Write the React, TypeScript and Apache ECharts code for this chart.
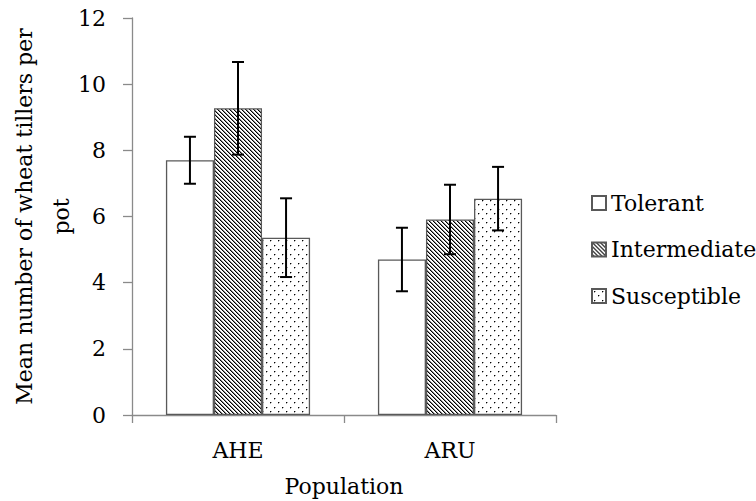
import React, { useEffect, useRef } from "react";
import * as echarts from "echarts";

// Populations on the x axis and tolerance groups as bar series
const populations = ["AHE", "ARU"];
const groups = ["Tolerant", "Intermediate", "Susceptible"];

// Mean number of wheat tillers per pot
const tolerantMeans = [7.7, 4.7];
const intermediateMeans = [9.27, 5.91];
const susceptibleMeans = [5.36, 6.54];

// Standard errors (drawn as symmetric error bars)
const tolerantErr = [0.71, 0.96];
const intermediateErr = [1.4, 1.05];
const susceptibleErr = [1.19, 0.96];

const yMin = 0;
const yMax = 12;
const yStep = 2;

const FONT = "DejaVu Serif";
const FONT_SIZE = 22;
const CATEGORY_GAP = 0.32;

function hatchPattern(): HTMLCanvasElement {
  const c = document.createElement("canvas");
  c.width = 4;
  c.height = 4;
  const g = c.getContext("2d")!;
  g.fillStyle = "#ffffff";
  g.fillRect(0, 0, 4, 4);
  g.fillStyle = "#000000";
  for (let i = 0; i < 4; i++) g.fillRect(i, i, 1, 1);
  g.fillStyle = "#8a8a8a";
  for (let i = 0; i < 4; i++) g.fillRect((i + 1) % 4, i, 1, 1);
  return c;
}

function dotPattern(): HTMLCanvasElement {
  const c = document.createElement("canvas");
  c.width = 8;
  c.height = 9;
  const g = c.getContext("2d")!;
  g.fillStyle = "#ffffff";
  g.fillRect(0, 0, 8, 9);
  const dot = (x: number, y: number) => {
    g.fillStyle = "#000000";
    g.fillRect(x, y, 1, 1);
    g.fillStyle = "#a8a8a8";
    g.fillRect(x + 1, y, 1, 1);
    g.fillRect(x, y + 1, 1, 1);
  };
  dot(2, 2);
  dot(6, 6);
  return c;
}

export default function App() {
  const ref = useRef<HTMLDivElement>(null);

  useEffect(() => {
    if (!ref.current) return;
    const chart = echarts.init(ref.current, undefined, { renderer: "svg" });

    const means = [tolerantMeans, intermediateMeans, susceptibleMeans];
    const errs = [tolerantErr, intermediateErr, susceptibleErr];
    const fills: any[] = [
      "#ffffff",
      { image: hatchPattern(), repeat: "repeat" },
      { image: dotPattern(), repeat: "repeat" },
    ];

    const errorData: number[][] = [];
    for (let s = 0; s < groups.length; s++) {
      for (let c = 0; c < populations.length; c++) {
        errorData.push([c, s, means[s][c] - errs[s][c], means[s][c] + errs[s][c]]);
      }
    }

    const barSeries = groups.map((name, s) => ({
      name,
      type: "bar",
      data: means[s],
      barGap: "0%",
      barCategoryGap: CATEGORY_GAP * 100 + "%",
      itemStyle: {
        color: fills[s],
        borderColor: "#595959",
        borderWidth: 1.3,
      },
    }));

    const axisColor = "#8a8a8a";

    const option: any = {
      animation: false,
      backgroundColor: "#ffffff",
      textStyle: { fontFamily: FONT, color: "#000" },
      grid: {
        left: 132,
        right: 200,
        top: 18,
        bottom: 86,
        containLabel: false,
        outerBoundsMode: "none",
      },
      legend: {
        data: groups,
        orient: "vertical",
        left: 586,
        top: 187,
        itemWidth: 14,
        itemHeight: 14,
        itemGap: 24.5,
        icon: "rect",
        textStyle: { fontFamily: FONT, fontSize: FONT_SIZE, color: "#000", lineHeight: 22 },
      },
      xAxis: {
        type: "category",
        data: populations,
        name: "Population",
        nameLocation: "middle",
        nameGap: 60,
        nameMoveOverlap: false,
        nameTextStyle: { fontFamily: FONT, fontSize: FONT_SIZE, color: "#000" },
        axisLine: { lineStyle: { color: axisColor, width: 1.3 } },
        axisTick: { show: true, length: 8, lineStyle: { color: axisColor, width: 1.3 } },
        axisLabel: { fontFamily: FONT, fontSize: FONT_SIZE, color: "#000", margin: 24 },
      },
      yAxis: {
        type: "value",
        min: yMin,
        max: yMax,
        interval: yStep,
        name: "Mean number of wheat tillers per\npot",
        nameLocation: "middle",
        nameRotate: 90,
        nameGap: 52,
        nameMoveOverlap: false,
        nameTextStyle: { fontFamily: FONT, fontSize: 22, color: "#000", lineHeight: 37 },
        splitLine: { show: false },
        axisLine: { show: true, lineStyle: { color: axisColor, width: 1.3 } },
        axisTick: { show: true, length: 9, lineStyle: { color: axisColor, width: 1.3 } },
        axisLabel: { fontFamily: FONT, fontSize: FONT_SIZE, color: "#000", margin: 26 },
      },
      series: [
        ...barSeries,
        {
          type: "custom",
          name: "errors",
          z: 5,
          data: errorData,
          renderItem: (params: any, api: any) => {
            const cat = api.value(0);
            const s = api.value(1);
            const lo = api.value(2);
            const hi = api.value(3);
            const band = api.size([1, 0])[0];
            const bw = (band * (1 - CATEGORY_GAP)) / groups.length;
            const cx = api.coord([cat, 0])[0] + (s - (groups.length - 1) / 2) * bw;
            const yTop = api.coord([cat, hi])[1];
            const yBot = api.coord([cat, lo])[1];
            const cap = 6;
            const style = { stroke: "#000", lineWidth: 2 };
            return {
              type: "group",
              children: [
                { type: "line", shape: { x1: cx, y1: yTop, x2: cx, y2: yBot }, style },
                { type: "line", shape: { x1: cx - cap, y1: yTop, x2: cx + cap, y2: yTop }, style },
                { type: "line", shape: { x1: cx - cap, y1: yBot, x2: cx + cap, y2: yBot }, style },
              ],
            };
          },
        },
      ],
    };

    chart.setOption(option);
    return () => chart.dispose();
  }, []);

  return <div ref={ref} style={{ width: 756, height: 501, position: "absolute", left: 0, top: 0 }} />;
}
